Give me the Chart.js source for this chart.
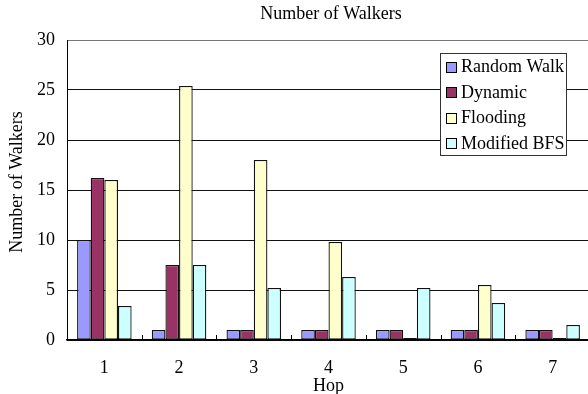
<!DOCTYPE html>
<html>
<head>
<meta charset="utf-8">
<script src="https://cdn.jsdelivr.net/npm/chart.js@4/dist/chart.umd.min.js"></script>
<style>
  html, body { margin: 0; padding: 0; overflow: hidden; background: #fff; }
  canvas { display: block; }
</style>
</head>
<body>
<canvas id="c" width="591" height="394"></canvas>
<script>
// Hop counts along the x axis
const hops = ['1', '2', '3', '4', '5', '6', '7'];

// Walkers per hop for each search strategy
const randomWalk  = [10, 1, 1, 1, 1, 1, 1];
const dynamic     = [16.2, 7.5, 1, 1, 1, 1, 1];
const flooding    = [16, 25.4, 18, 9.8, 0.2, 5.5, 0.2];
const modifiedBFS = [3.4, 7.5, 5.2, 6.3, 5.2, 3.7, 1.5];

const yTicks = [0, 5, 10, 15, 20, 25, 30];

const chartTitle = 'Number of Walkers';
const xTitle = 'Hop';
const yTitle = 'Number of Walkers';

const FONT = '"Liberation Serif", "Times New Roman", serif';

// Titles, inward category tick marks and the boxed legend
const decorations = {
  id: 'decorations',
  afterDraw(chart) {
    const ctx = chart.ctx;
    const area = chart.chartArea;
    const x = chart.scales.x;
    ctx.save();

    // short tick marks between categories, pointing up into the plot
    ctx.strokeStyle = '#000';
    ctx.lineWidth = 1;
    ctx.beginPath();
    for (let i = 0; i < hops.length - 1; i++) {
      const bx = Math.round((x.getPixelForValue(i) + x.getPixelForValue(i + 1)) / 2) + 0.5;
      ctx.moveTo(bx, area.bottom);
      ctx.lineTo(bx, area.bottom - 5);
    }
    ctx.stroke();

    ctx.fillStyle = '#000';
    ctx.textAlign = 'center';
    ctx.textBaseline = 'middle';
    ctx.font = '18px ' + FONT;
    ctx.fillText(chartTitle, 331, 14);
    ctx.fillText(xTitle, (area.left + area.right) / 2, 386);

    ctx.save();
    ctx.translate(17, 182);
    ctx.rotate(-Math.PI / 2);
    ctx.fillText(yTitle, 0, 0);
    ctx.restore();

    // legend box
    const lx = 440, ly = 53, lw = 126, lh = 102;
    ctx.fillStyle = '#fff';
    ctx.fillRect(lx, ly, lw, lh);
    ctx.strokeStyle = '#333';
    ctx.strokeRect(lx + 0.5, ly + 0.5, lw, lh);

    ctx.textAlign = 'left';
    ctx.font = '18px ' + FONT;
    chart.data.datasets.forEach((ds, i) => {
      const cy = 66.7 + i * 25.5;
      ctx.fillStyle = ds.backgroundColor;
      ctx.fillRect(446, Math.round(cy - 5), 10, 10);
      ctx.strokeStyle = '#000';
      ctx.strokeRect(446.5, Math.round(cy - 5) + 0.5, 10, 10);
      ctx.fillStyle = '#000';
      ctx.fillText(ds.label, 461, cy + 1);
    });

    ctx.restore();
  }
};

new Chart(document.getElementById('c'), {
  type: 'bar',
  data: {
    labels: hops,
    datasets: [
      { label: 'Random Walk',  data: randomWalk,  backgroundColor: '#9999FF' },
      { label: 'Dynamic',      data: dynamic,     backgroundColor: '#993366' },
      { label: 'Flooding',     data: flooding,    backgroundColor: '#FFFFCC' },
      { label: 'Modified BFS', data: modifiedBFS, backgroundColor: '#CCFFFF' }
    ]
  },
  options: {
    responsive: false,
    animation: false,
    layout: { padding: { top: 40, right: 1, left: 0, bottom: 0 } },
    datasets: {
      bar: {
        borderColor: '#111',
        borderWidth: 1.3,
        borderSkipped: false,
        barPercentage: 1,
        categoryPercentage: 0.73
      }
    },
    plugins: {
      legend: { display: false },
      title: { display: false },
      tooltip: { enabled: false }
    },
    scales: {
      x: {
        grid: { display: false, drawTicks: false },
        border: { display: true, color: '#000', width: 1.5 },
        ticks: { color: '#000', font: { family: FONT, size: 18 }, padding: 17 },
        afterFit(scale) { scale.height = 54; }
      },
      y: {
        min: 0,
        max: 30,
        afterBuildTicks(scale) { scale.ticks = yTicks.map(v => ({ value: v })); },
        grid: {
          color: ctx => ctx.tick && ctx.tick.value === 30 ? '#777' : '#111',
          drawTicks: false
        },
        border: { display: true, color: '#000', width: 1 },
        ticks: { color: '#000', font: { family: FONT, size: 18 }, padding: 12 },
        afterFit(scale) { scale.width = 67; }
      }
    }
  },
  plugins: [decorations]
});
</script>
</body>
</html>
